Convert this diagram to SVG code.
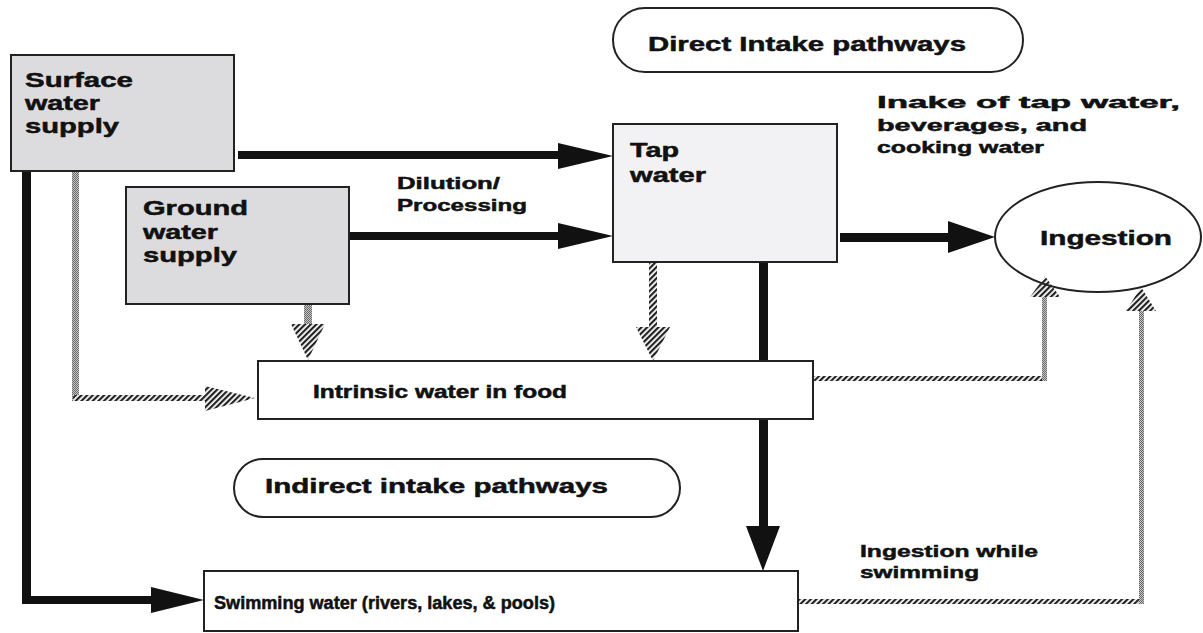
<svg xmlns="http://www.w3.org/2000/svg" width="1203" height="633" viewBox="0 0 1203 633">
<style>
text{font-family:"Liberation Sans",Arial,sans-serif;font-weight:bold;fill:#111;stroke:#111;stroke-width:0.5}
.big{font-size:21px}
.mid{font-size:17px}
.sm{font-size:18px}
.box{stroke:#222;stroke-width:2}
.dark{fill:#dcdcde}
.light{fill:#f2f2f4}
.white{fill:#fff}
.blk{fill:#111}
.chk{fill:url(#checker)}
.hat{fill:url(#hatch)}
</style>
<defs>
<pattern id="hatch" width="4" height="4" patternUnits="userSpaceOnUse" patternTransform="rotate(45)">
<rect width="4" height="4" fill="#fff"/><rect width="2.2" height="4" fill="#222"/>
</pattern>
<pattern id="checker" width="2" height="2" patternUnits="userSpaceOnUse">
<rect width="2" height="2" fill="#c4c4c4"/><rect width="1" height="1" fill="#6a6a6a"/><rect x="1" y="1" width="1" height="1" fill="#6a6a6a"/>
</pattern>
</defs>
<rect width="1203" height="633" fill="#fff"/>

<g id="connectors">
<rect class="blk" x="238" y="151" width="324" height="8"/>
<polygon class="blk" points="558,143 613,156 558,169"/>
<rect class="blk" x="350" y="232" width="212" height="8"/>
<polygon class="blk" points="558,223 613,236 558,249"/>
<rect class="blk" x="840" y="233" width="112" height="9"/>
<polygon class="blk" points="948,221 995,237 948,253"/>
<rect class="blk" x="22" y="171" width="9" height="433"/>
<rect class="blk" x="22" y="596" width="132" height="8"/>
<polygon class="blk" points="151,587 204,600 151,613"/>
<rect class="blk" x="759" y="262" width="9" height="266"/>
<polygon class="blk" points="746,526 780,526 763,571"/>
<rect class="chk" x="72" y="171" width="7" height="230"/>
<rect class="hat" x="73" y="395" width="134" height="6"/>
<polygon class="hat" points="205,386 255,398 205,411"/>
<rect class="chk" x="304" y="304" width="8" height="22"/>
<polygon class="hat" points="291,324 325,324 308,360"/>
<rect class="hat" x="649" y="262" width="8" height="66"/>
<polygon class="hat" points="636,327 670,327 653,361"/>
<rect class="hat" x="813" y="376" width="234" height="5"/>
<rect class="chk" x="1042" y="296" width="5" height="85"/>
<polygon class="hat" points="1030,297 1060,297 1045,276"/>
<rect class="hat" x="798" y="599" width="346" height="5"/>
<rect class="chk" x="1139" y="309" width="5" height="295"/>
<polygon class="hat" points="1126,311 1156,311 1141,287"/>
</g>

<g id="surface">
<rect class="box dark" x="11" y="55" width="223" height="116"/>
<text class="big" x="25" y="87" textLength="108" lengthAdjust="spacingAndGlyphs">Surface</text>
<text class="big" x="25" y="110" textLength="75" lengthAdjust="spacingAndGlyphs">water</text>
<text class="big" x="25" y="133" textLength="94" lengthAdjust="spacingAndGlyphs">supply</text>
</g>

<g id="ground">
<rect class="box dark" x="126" y="187" width="223" height="117"/>
<text class="big" x="143" y="215" textLength="105" lengthAdjust="spacingAndGlyphs">Ground</text>
<text class="big" x="143" y="239" textLength="75" lengthAdjust="spacingAndGlyphs">water</text>
<text class="big" x="143" y="262" textLength="94" lengthAdjust="spacingAndGlyphs">supply</text>
</g>

<g id="tap">
<rect class="box light" x="613" y="124" width="224" height="138"/>
<text class="big" x="630" y="157" textLength="49" lengthAdjust="spacingAndGlyphs">Tap</text>
<text class="big" x="630" y="182" textLength="76" lengthAdjust="spacingAndGlyphs">water</text>
</g>

<g id="dilution-label">
<text class="mid" x="397" y="189" textLength="103" lengthAdjust="spacingAndGlyphs">Dilution/</text>
<text class="mid" x="397" y="211" textLength="130" lengthAdjust="spacingAndGlyphs">Processing</text>
</g>

<g id="direct">
<rect x="613" y="8" width="410" height="64" rx="32" ry="32" fill="#fff" stroke="#222" stroke-width="2"/>
<text class="big" x="648" y="51" textLength="318" lengthAdjust="spacingAndGlyphs">Direct Intake pathways</text>
</g>

<g id="intake-label">
<text class="mid" x="877" y="108" textLength="303" lengthAdjust="spacingAndGlyphs">Inake of tap water,</text>
<text class="mid" x="877" y="131" textLength="210" lengthAdjust="spacingAndGlyphs">beverages, and</text>
<text class="mid" x="877" y="153" textLength="167" lengthAdjust="spacingAndGlyphs">cooking water</text>
</g>

<g id="ingestion">
<ellipse cx="1098" cy="237" rx="103" ry="55" fill="none" stroke="#222" stroke-width="2"/>
<text class="big" x="1040" y="245" textLength="132" lengthAdjust="spacingAndGlyphs">Ingestion</text>
</g>

<g id="intrinsic">
<rect class="box white" x="258" y="361" width="555" height="58"/>
<text class="sm" x="313" y="398" textLength="254" lengthAdjust="spacingAndGlyphs">Intrinsic water in food</text>
</g>

<g id="indirect">
<rect x="234" y="459" width="446" height="58" rx="29" ry="29" fill="#fff" stroke="#222" stroke-width="2"/>
<text class="big" x="265" y="493" textLength="343" lengthAdjust="spacingAndGlyphs">Indirect intake pathways</text>
</g>

<g id="swim-label">
<text class="mid" x="860" y="557" textLength="178" lengthAdjust="spacingAndGlyphs">Ingestion while</text>
<text class="mid" x="860" y="578" textLength="119" lengthAdjust="spacingAndGlyphs">swimming</text>
</g>

<g id="swimming">
<rect class="box white" x="204" y="571" width="594" height="60"/>
<text class="sm" x="214" y="609" textLength="341" lengthAdjust="spacingAndGlyphs">Swimming water (rivers, lakes, &amp; pools)</text>
</g>
</svg>
